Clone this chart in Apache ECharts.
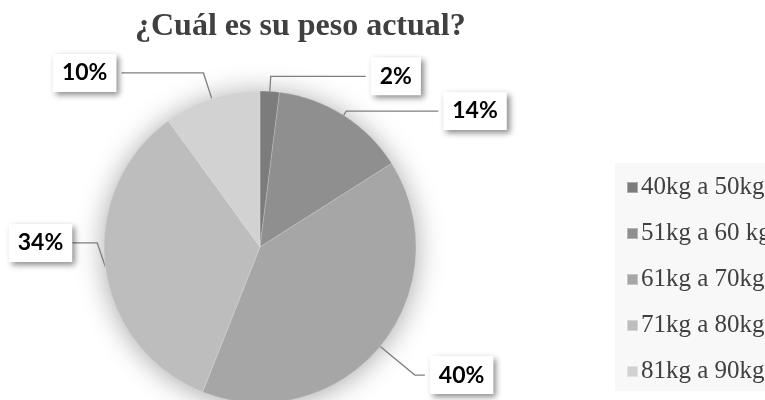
<!DOCTYPE html>
<html>
<head>
<meta charset="utf-8">
<script src="https://cdn.jsdelivr.net/npm/echarts@6/dist/echarts.min.js"></script>
<style>
html,body{margin:0;padding:0;background:#fff;}
#chart{width:765px;height:400px;}
</style>
</head>
<body>
<div id="chart"></div>
<script>
var titleText = '¿Cuál es su peso actual?';
var categories = ['40kg a 50kg', '51kg a 60 kg', '61kg a 70kg', '71kg a 80kg', '81kg a 90kg'];
var values = [2, 14, 40, 34, 10];
var colors = ['#7c7c7c', '#8f8f8f', '#a6a6a6', '#bdbdbd', '#d2d2d2'];
// label line styling per slice (first segment, second segment, vertical nudge)
var lineLen1 = [15, 5, 45, 3, 27];
var lineLen2 = [95, 92, 10, 25, 82];
var labelNudgeY = [0, 0, 0, -24, 0];

var chart = echarts.init(document.getElementById('chart'), null, {renderer: 'canvas'});

var pieData = categories.map(function (c, i) {
  return {
    name: c,
    value: values[i],
    itemStyle: {color: colors[i]},
    labelLine: {length: lineLen1[i], length2: lineLen2[i]}
  };
});

var option = {
  backgroundColor: '#ffffff',
  animation: false,
  title: {
    text: titleText,
    left: 130,
    top: 6,
    textStyle: {
      fontFamily: 'Liberation Serif',
      fontWeight: 'bold',
      fontSize: 32,
      color: '#404040'
    }
  },
  legend: {
    orient: 'vertical',
    left: 615,
    top: 163,
    width: 200,
    padding: [12, 20, 7, 11],
    backgroundColor: '#f8f8f8',
    itemGap: 21,
    itemWidth: 11,
    itemHeight: 11,
    icon: 'rect',
    selectedMode: false,
    data: categories,
    textStyle: {
      fontFamily: 'Liberation Serif',
      fontSize: 25,
      color: '#404040',
      lineHeight: 24,
      padding: [0, 0, 0, -2]
    }
  },
  series: [
    {
      type: 'pie',
      silent: true,
      center: [260, 247],
      radius: 156,
      z: 1,
      label: {show: false},
      labelLine: {show: false},
      itemStyle: {
        color: '#c0c0c0',
        shadowBlur: 28,
        shadowColor: 'rgba(0,0,0,0.35)',
        shadowOffsetX: 0,
        shadowOffsetY: 2
      },
      data: [{value: 1, name: ''}]
    },
    {
      type: 'pie',
      center: [260, 247],
      radius: 156,
      startAngle: 90,
      clockwise: true,
      z: 2,
      avoidLabelOverlap: false,
      itemStyle: {
        borderColor: 'rgba(255,255,255,0.35)',
        borderWidth: 0.6
      },
      label: {
        show: true,
        formatter: function (p) { return p.value + '%'; },
        fontFamily: 'Lato',
        fontWeight: 'bold',
        fontSize: 23,
        color: '#000000',
        backgroundColor: '#ffffff',
        padding: [8, 9, 7, 9],
        shadowBlur: 6,
        shadowColor: 'rgba(0,0,0,0.45)',
        shadowOffsetX: 3,
        shadowOffsetY: 3
      },
      labelLine: {
        show: true,
        lineStyle: {color: '#7f7f7f', width: 1.3}
      },
      labelLayout: function (p) {
        var d = labelNudgeY[p.dataIndex];
        if (!d) { return {}; }
        return {y: p.labelRect.y + p.labelRect.height / 2 + d};
      },
      data: pieData
    }
  ]
};

chart.setOption(option);
</script>
</body>
</html>
